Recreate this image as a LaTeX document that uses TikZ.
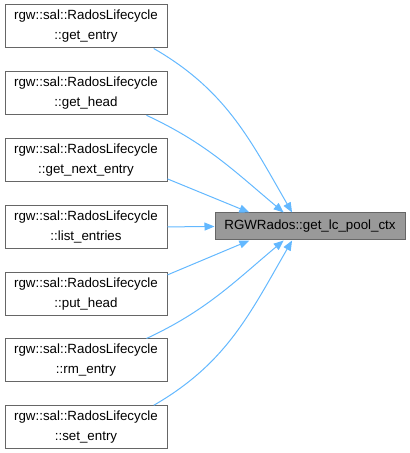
\documentclass[tikz,border=0pt]{standalone}
\usepackage{fontspec}
\setmainfont{Liberation Sans}
\usetikzlibrary{arrows.meta, positioning}
\definecolor{edgeblue}{RGB}{99,184,255}
\definecolor{boxline}{RGB}{102,102,102}
\definecolor{curfill}{RGB}{153,153,153}

\begin{document}
\begin{tikzpicture}[
    x=0.75pt, y=0.75pt,
    node distance=17.1pt,
    fn/.style={draw=boxline, fill=white, minimum width=121.5pt, minimum height=32.25pt,
               inner sep=0pt, align=center, font=\fontsize{10}{15}\selectfont, line width=0.75pt},
    cur/.style={draw=boxline, fill=curfill, minimum width=142.5pt, minimum height=20.25pt,
                inner sep=0pt, font=\fontsize{10}{12}\selectfont, line width=0.75pt},
    arr/.style={{Triangle[length=7.5pt, width=6pt]}-, color=edgeblue, line width=0.75pt},
]
\useasboundingbox (0,0) rectangle (410,453);

% callers
\node[fn] (getentry) at (86,426.5) {rgw::sal::RadosLifecycle\\::get\_entry};
\node[fn, below=of getentry] (gethead) {rgw::sal::RadosLifecycle\\::get\_head};
\node[fn, below=of gethead] (getnext) {rgw::sal::RadosLifecycle\\::get\_next\_entry};
\node[fn, below=of getnext] (listent) {rgw::sal::RadosLifecycle\\::list\_entries};
\node[fn, below=of listent] (puthead) {rgw::sal::RadosLifecycle\\::put\_head};
\node[fn, below=of puthead] (rmentry) {rgw::sal::RadosLifecycle\\::rm\_entry};
\node[fn, below=of rmentry] (setentry) {rgw::sal::RadosLifecycle\\::set\_entry};

% callee
\node[cur] (pool) at (310,226.5) {RGWRados::get\_lc\_pool\_ctx};

\draw[arr] (pool.142) to[out=120, in=-30] (getentry.-18);
\draw[arr] (pool.152) to[out=140, in=-25] (gethead.-20);
\draw[arr] (pool.167) -- (getnext.-13);
\draw[arr] (pool.west) -- (listent.east);
\draw[arr] (pool.-167) -- (puthead.13);
\draw[arr] (pool.-152) to[out=-140, in=25] (rmentry.20);
\draw[arr] (pool.-142) to[out=-120, in=30] (setentry.18);
\end{tikzpicture}
\end{document}
